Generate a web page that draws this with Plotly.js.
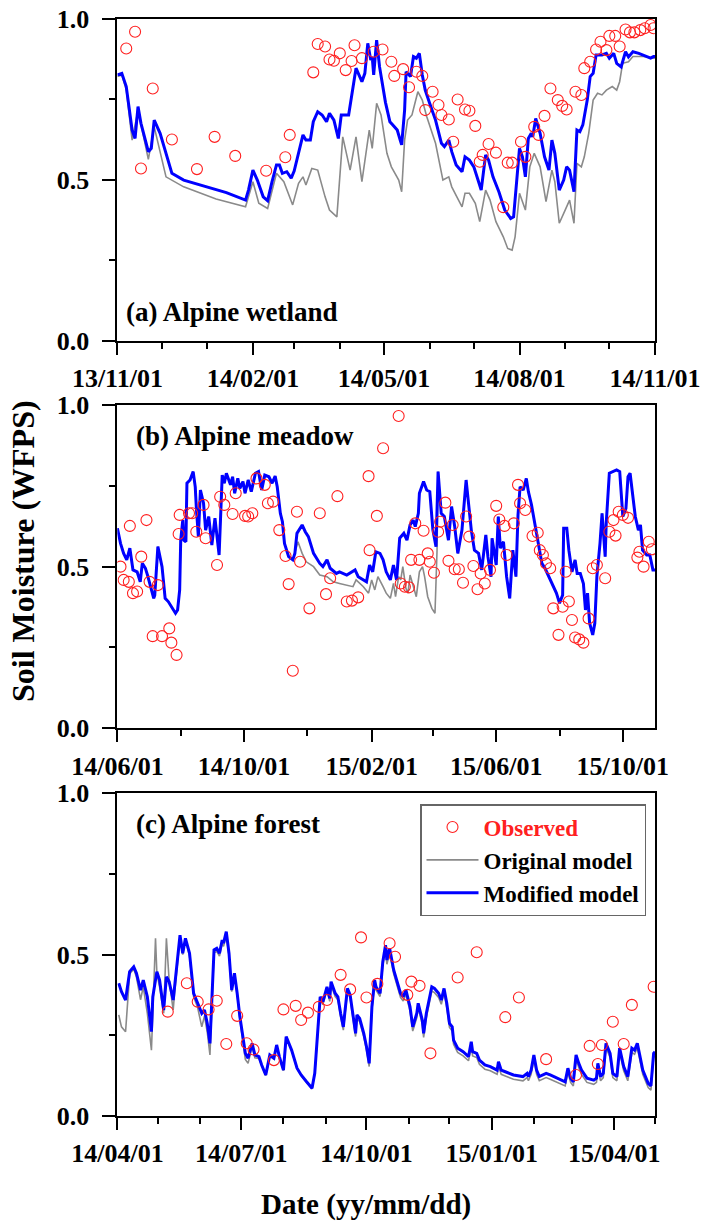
<!DOCTYPE html>
<html>
<head>
<meta charset="utf-8">
<script src="https://cdn.plot.ly/plotly-3.0.1.min.js"></script>
<style>html,body{margin:0;padding:0;background:#fff;}#chart{width:705px;height:1224px;}</style>
</head>
<body>
<div id="chart"></div>
<script>
// ---- Data: [day since panel start, soil moisture (WFPS)] ----
const wetlandStart = '2013-11-01';
const meadowStart = '2014-06-01';
const forestStart = '2014-04-01';

const wetlandObserved = [[6,0.907],[12,0.959],[16,0.535],[24,0.783],[37,0.625],[54,0.533],[66,0.633],[80,0.574],[101,0.528],[114,0.57],[117,0.639],[133,0.833],[136,0.921],[141,0.913],[144,0.873],[147,0.869],[151,0.892],[155,0.84],[159,0.868],[161,0.917],[166,0.877],[174,0.897],[180,0.904],[186,0.866],[188,0.822],[194,0.843],[198,0.787],[203,0.835],[207,0.822],[209,0.716],[214,0.773],[218,0.732],[220,0.701],[225,0.687],[228,0.618],[231,0.749],[236,0.718],[239,0.714],[243,0.667],[246,0.556],[248,0.577],[252,0.611],[257,0.584],[262,0.415],[265,0.553],[268,0.553],[274,0.618],[277,0.571],[283,0.664],[286,0.639],[290,0.698],[294,0.783],[299,0.747],[302,0.729],[305,0.718],[311,0.773],[315,0.763],[317,0.846],[321,0.866],[325,0.904],[328,0.928],[332,0.902],[334,0.946],[338,0.946],[341,0.913],[345,0.966],[348,0.957],[351,0.957],[355,0.964],[358,0.97],[362,0.98],[364,0.97]];

const wetlandOriginal = [[0,0.82],[3,0.825],[6,0.78],[10,0.623],[14,0.716],[21,0.563],[25,0.664],[33,0.509],[45,0.478],[67,0.44],[87,0.416],[89,0.447],[92,0.494],[96,0.427],[102,0.411],[108,0.52],[113,0.494],[119,0.422],[123,0.489],[126,0.509],[128,0.484],[132,0.535],[136,0.53],[141,0.447],[144,0.406],[149,0.385],[153,0.633],[158,0.53],[162,0.633],[166,0.494],[171,0.654],[173,0.597],[176,0.737],[179,0.701],[183,0.582],[186,0.54],[188,0.525],[191,0.499],[193,0.463],[195,0.623],[197,0.685],[200,0.701],[202,0.737],[204,0.773],[207,0.747],[210,0.696],[216,0.613],[221,0.499],[225,0.509],[227,0.478],[231,0.442],[234,0.416],[236,0.458],[239,0.458],[243,0.427],[246,0.37],[250,0.468],[253,0.437],[257,0.37],[262,0.323],[265,0.287],[268,0.282],[270,0.323],[273,0.458],[277,0.406],[280,0.54],[283,0.582],[287,0.54],[291,0.432],[295,0.53],[297,0.494],[300,0.365],[304,0.406],[307,0.437],[310,0.365],[312,0.551],[315,0.54],[317,0.571],[320,0.644],[323,0.747],[326,0.768],[329,0.763],[332,0.778],[336,0.789],[339,0.778],[341,0.804],[343,0.861],[347,0.866],[350,0.882],[357,0.882],[365,0.877]];

const wetlandModified = [[0,0.825],[3,0.83],[6,0.789],[10,0.654],[12,0.628],[14,0.727],[16,0.675],[21,0.587],[23,0.597],[25,0.685],[29,0.644],[37,0.52],[45,0.499],[56,0.484],[67,0.468],[74,0.46],[87,0.437],[89,0.468],[92,0.53],[95,0.499],[99,0.447],[102,0.435],[105,0.494],[108,0.546],[110,0.546],[112,0.52],[115,0.525],[118,0.505],[120,0.527],[123,0.587],[125,0.623],[126,0.639],[128,0.623],[131,0.623],[133,0.68],[136,0.711],[139,0.701],[142,0.68],[144,0.706],[147,0.685],[150,0.628],[152,0.701],[157,0.701],[159,0.758],[162,0.846],[166,0.804],[168,0.83],[170,0.923],[172,0.871],[173,0.881],[174,0.825],[176,0.933],[178,0.85],[182,0.74],[185,0.68],[187,0.67],[190,0.654],[192,0.623],[193,0.608],[195,0.716],[196,0.835],[199,0.82],[201,0.882],[203,0.877],[205,0.892],[207,0.825],[209,0.778],[212,0.737],[216,0.685],[220,0.613],[222,0.603],[225,0.623],[227,0.587],[230,0.546],[234,0.525],[236,0.571],[239,0.561],[242,0.54],[245,0.499],[247,0.468],[250,0.577],[252,0.561],[255,0.509],[259,0.463],[263,0.406],[267,0.38],[269,0.385],[271,0.499],[273,0.597],[275,0.571],[277,0.509],[279,0.628],[281,0.644],[282,0.633],[284,0.69],[287,0.644],[290,0.571],[293,0.53],[295,0.623],[297,0.582],[300,0.468],[303,0.499],[305,0.54],[307,0.53],[310,0.463],[312,0.654],[314,0.649],[316,0.67],[319,0.747],[321,0.82],[323,0.83],[325,0.887],[329,0.887],[332,0.892],[334,0.877],[337,0.892],[339,0.861],[342,0.85],[345,0.897],[347,0.881],[350,0.897],[354,0.892],[357,0.887],[362,0.877],[364,0.882],[365,0.882]];

const meadowObserved = [[3,0.5],[6,0.459],[11,0.453],[12,0.626],[15,0.418],[19,0.423],[23,0.531],[28,0.644],[31,0.453],[34,0.285],[39,0.443],[43,0.285],[50,0.309],[52,0.265],[57,0.227],[59,0.601],[60,0.66],[69,0.665],[72,0.665],[76,0.608],[83,0.691],[85,0.588],[96,0.505],[99,0.716],[103,0.691],[111,0.663],[114,0.727],[123,0.657],[126,0.655],[130,0.665],[134,0.773],[142,0.753],[145,0.696],[150,0.701],[156,0.613],[162,0.533],[165,0.446],[169,0.178],[173,0.67],[176,0.515],[185,0.371],[195,0.665],[201,0.415],[205,0.464],[212,0.718],[221,0.392],[226,0.395],[232,0.405],[242,0.78],[243,0.551],[250,0.657],[256,0.866],[271,0.966],[273,0.448],[277,0.438],[281,0.436],[283,0.521],[287,0.634],[291,0.521],[295,0.611],[299,0.541],[301,0.515],[305,0.481],[309,0.608],[311,0.639],[316,0.698],[319,0.518],[323,0.629],[325,0.492],[329,0.492],[333,0.45],[336,0.655],[339,0.593],[343,0.502],[347,0.43],[350,0.479],[354,0.448],[359,0.49],[365,0.688],[368,0.646],[373,0.626],[375,0.536],[382,0.634],[386,0.753],[388,0.696],[393,0.675],[400,0.595],[405,0.605],[407,0.551],[410,0.536],[413,0.51],[417,0.495],[420,0.371],[425,0.289],[429,0.376],[432,0.484],[435,0.392],[438,0.335],[441,0.281],[445,0.275],[449,0.265],[454,0.34],[458,0.495],[462,0.505],[470,0.464],[474,0.608],[478,0.644],[480,0.596],[483,0.67],[487,0.66],[492,0.651],[501,0.528],[503,0.546],[507,0.5],[512,0.577],[515,0.554]];

const meadowOriginal = [[0,0.619],[3,0.572],[6,0.541],[9,0.521],[12,0.557],[15,0.49],[19,0.484],[22,0.453],[24,0.51],[27,0.495],[29,0.474],[31,0.448],[35,0.402],[36,0.412],[39,0.562],[43,0.5],[46,0.402],[49,0.392],[52,0.376],[56,0.356],[58,0.366],[60,0.428],[61,0.582],[63,0.644],[64,0.582],[66,0.577],[67,0.758],[70,0.768],[73,0.794],[75,0.747],[76,0.686],[78,0.593],[80,0.737],[83,0.696],[85,0.613],[88,0.655],[91,0.567],[94,0.65],[96,0.593],[98,0.536],[101,0.783],[103,0.758],[105,0.789],[109,0.753],[111,0.778],[113,0.727],[116,0.773],[118,0.742],[121,0.763],[123,0.727],[126,0.768],[129,0.732],[133,0.789],[136,0.794],[139,0.737],[142,0.783],[146,0.778],[149,0.758],[152,0.78],[154,0.747],[157,0.665],[159,0.639],[161,0.572],[165,0.531],[169,0.521],[171,0.541],[174,0.577],[178,0.541],[182,0.515],[189,0.5],[195,0.474],[202,0.469],[208,0.453],[214,0.448],[227,0.438],[230,0.459],[237,0.438],[242,0.418],[245,0.459],[248,0.428],[251,0.469],[256,0.438],[259,0.418],[263,0.402],[266,0.448],[268,0.407],[271,0.469],[273,0.459],[275,0.5],[278,0.433],[280,0.418],[282,0.474],[285,0.438],[288,0.407],[291,0.484],[294,0.5],[296,0.469],[299,0.407],[303,0.371],[306,0.356],[308,0.551],[309,0.794],[312,0.665],[315,0.655],[319,0.582],[322,0.686],[325,0.624],[328,0.541],[332,0.613],[334,0.68],[336,0.768],[338,0.706],[341,0.613],[344,0.551],[348,0.541],[351,0.49],[355,0.598],[357,0.531],[360,0.469],[361,0.588],[365,0.505],[367,0.655],[369,0.557],[372,0.577],[375,0.469],[378,0.402],[381,0.551],[384,0.469],[386,0.66],[388,0.747],[391,0.737],[394,0.773],[396,0.732],[399,0.691],[402,0.634],[405,0.582],[409,0.51],[412,0.495],[415,0.474],[418,0.448],[423,0.418],[426,0.387],[429,0.412],[430,0.619],[433,0.619],[435,0.551],[438,0.484],[441,0.521],[443,0.479],[446,0.479],[449,0.448],[451,0.366],[453,0.418],[455,0.325],[458,0.289],[460,0.325],[462,0.469],[465,0.572],[467,0.665],[470,0.531],[471,0.634],[474,0.789],[478,0.794],[481,0.799],[484,0.794],[487,0.655],[490,0.68],[492,0.778],[494,0.789],[496,0.727],[499,0.655],[502,0.613],[504,0.629],[506,0.551],[510,0.536],[513,0.536],[516,0.49],[518,0.49]];

const meadowModified = [[0,0.619],[3,0.572],[6,0.541],[9,0.521],[12,0.557],[15,0.49],[19,0.484],[22,0.453],[24,0.51],[27,0.495],[29,0.474],[31,0.448],[35,0.402],[36,0.412],[39,0.562],[43,0.5],[46,0.402],[49,0.392],[52,0.376],[56,0.356],[58,0.366],[60,0.428],[61,0.582],[63,0.644],[64,0.582],[66,0.577],[67,0.758],[70,0.768],[73,0.794],[75,0.747],[76,0.686],[78,0.593],[80,0.737],[83,0.696],[85,0.613],[88,0.655],[91,0.567],[94,0.65],[96,0.593],[98,0.536],[101,0.783],[103,0.758],[105,0.789],[109,0.753],[111,0.778],[113,0.727],[116,0.773],[118,0.742],[121,0.763],[123,0.727],[126,0.768],[129,0.732],[133,0.789],[136,0.794],[139,0.737],[142,0.783],[146,0.778],[149,0.758],[152,0.78],[154,0.747],[157,0.665],[159,0.639],[161,0.572],[165,0.531],[169,0.521],[171,0.541],[173,0.603],[178,0.629],[181,0.608],[184,0.593],[189,0.541],[195,0.51],[198,0.5],[202,0.521],[205,0.495],[211,0.479],[214,0.484],[221,0.474],[229,0.49],[232,0.469],[240,0.453],[243,0.505],[246,0.484],[249,0.546],[253,0.541],[256,0.521],[259,0.484],[263,0.459],[266,0.505],[269,0.459],[272,0.588],[276,0.603],[279,0.582],[282,0.629],[285,0.644],[287,0.624],[290,0.665],[291,0.727],[295,0.763],[298,0.737],[301,0.732],[304,0.613],[307,0.562],[309,0.794],[312,0.665],[315,0.655],[319,0.582],[322,0.686],[325,0.624],[328,0.541],[332,0.613],[334,0.68],[336,0.768],[338,0.706],[341,0.613],[344,0.551],[348,0.541],[351,0.49],[355,0.598],[357,0.531],[360,0.469],[361,0.588],[365,0.505],[367,0.655],[369,0.557],[372,0.577],[375,0.469],[378,0.402],[381,0.551],[384,0.469],[386,0.66],[388,0.747],[391,0.737],[394,0.773],[396,0.732],[399,0.691],[402,0.634],[405,0.582],[409,0.51],[412,0.495],[415,0.474],[418,0.448],[423,0.418],[426,0.387],[429,0.412],[430,0.619],[433,0.619],[435,0.551],[438,0.484],[441,0.521],[443,0.479],[446,0.479],[449,0.448],[451,0.366],[453,0.418],[455,0.325],[458,0.289],[460,0.325],[462,0.469],[465,0.572],[467,0.665],[470,0.531],[471,0.634],[474,0.789],[478,0.794],[481,0.799],[484,0.794],[487,0.655],[490,0.68],[492,0.778],[494,0.789],[496,0.727],[499,0.655],[502,0.613],[504,0.629],[506,0.551],[510,0.536],[513,0.536],[516,0.49],[518,0.49]];

const forestObserved = [[37,0.323],[51,0.411],[59,0.354],[67,0.33],[73,0.357],[80,0.223],[88,0.31],[95,0.225],[100,0.206],[115,0.173],[122,0.33],[131,0.341],[135,0.297],[140,0.32],[148,0.338],[154,0.359],[164,0.437],[171,0.392],[179,0.553],[183,0.367],[191,0.409],[200,0.535],[204,0.493],[213,0.375],[216,0.416],[222,0.403],[230,0.194],[250,0.429],[264,0.507],[285,0.306],[295,0.367],[315,0.176],[337,0.127],[347,0.217],[353,0.161],[356,0.22],[364,0.292],[372,0.223],[378,0.344],[394,0.4]];

const forestOriginal = [[1,0.313],[3,0.276],[6,0.261],[9,0.44],[12,0.455],[14,0.43],[17,0.36],[19,0.4],[22,0.318],[25,0.204],[26,0.318],[28,0.55],[29,0.442],[31,0.4],[34,0.318],[36,0.55],[38,0.421],[41,0.328],[42,0.38],[46,0.55],[48,0.5],[50,0.545],[53,0.495],[56,0.37],[59,0.335],[62,0.276],[64,0.31],[66,0.26],[68,0.189],[70,0.41],[71,0.505],[73,0.51],[75,0.495],[77,0.535],[78,0.525],[80,0.56],[82,0.495],[84,0.385],[86,0.435],[88,0.375],[90,0.3],[94,0.175],[96,0.163],[99,0.215],[101,0.18],[104,0.178],[106,0.155],[109,0.125],[112,0.185],[115,0.176],[117,0.217],[119,0.182],[122,0.14],[124,0.244],[128,0.202],[132,0.146],[135,0.125],[139,0.104],[143,0.084],[145,0.13],[147,0.255],[149,0.36],[151,0.345],[154,0.39],[156,0.355],[157,0.405],[160,0.37],[162,0.36],[164,0.308],[166,0.266],[169,0.385],[171,0.365],[175,0.246],[176,0.303],[178,0.292],[181,0.246],[183,0.205],[185,0.153],[187,0.328],[189,0.41],[190,0.39],[193,0.37],[195,0.465],[197,0.515],[198,0.47],[200,0.505],[203,0.44],[205,0.408],[208,0.367],[210,0.356],[212,0.377],[215,0.325],[217,0.263],[220,0.305],[221,0.336],[224,0.284],[225,0.243],[227,0.305],[230,0.367],[231,0.387],[233,0.382],[236,0.367],[238,0.346],[240,0.382],[242,0.336],[244,0.274],[246,0.263],[247,0.222],[250,0.197],[254,0.186],[258,0.171],[260,0.217],[261,0.186],[264,0.181],[266,0.16],[270,0.145],[274,0.14],[279,0.129],[280,0.155],[282,0.129],[285,0.124],[291,0.114],[298,0.109],[301,0.119],[302,0.109],[304,0.129],[306,0.176],[308,0.129],[310,0.109],[315,0.119],[318,0.114],[323,0.104],[329,0.093],[331,0.135],[333,0.104],[335,0.093],[337,0.176],[339,0.15],[341,0.129],[345,0.104],[350,0.098],[352,0.104],[353,0.15],[355,0.109],[357,0.119],[359,0.212],[362,0.181],[364,0.119],[367,0.109],[369,0.197],[372,0.14],[375,0.109],[378,0.197],[380,0.191],[382,0.212],[384,0.171],[386,0.129],[390,0.088],[392,0.08],[394,0.181],[395,0.186]];

const forestModified = [[1,0.411],[3,0.385],[6,0.359],[9,0.447],[12,0.462],[14,0.442],[17,0.39],[19,0.421],[22,0.369],[25,0.261],[26,0.369],[29,0.447],[31,0.421],[34,0.328],[36,0.431],[38,0.416],[41,0.359],[42,0.4],[46,0.56],[48,0.504],[50,0.55],[53,0.504],[56,0.38],[59,0.349],[62,0.318],[64,0.328],[66,0.287],[68,0.225],[70,0.421],[71,0.514],[73,0.519],[75,0.504],[77,0.545],[78,0.535],[80,0.571],[82,0.504],[84,0.39],[86,0.442],[88,0.38],[90,0.307],[94,0.194],[96,0.179],[99,0.225],[101,0.189],[104,0.184],[106,0.158],[109,0.127],[112,0.189],[115,0.179],[117,0.22],[119,0.184],[122,0.142],[124,0.246],[128,0.204],[132,0.148],[135,0.127],[139,0.106],[143,0.086],[145,0.132],[147,0.261],[149,0.369],[151,0.354],[154,0.4],[156,0.364],[157,0.416],[160,0.38],[162,0.369],[164,0.318],[166,0.276],[169,0.395],[171,0.375],[175,0.256],[176,0.313],[178,0.302],[181,0.256],[183,0.215],[185,0.163],[187,0.338],[189,0.421],[190,0.4],[193,0.38],[195,0.478],[197,0.529],[198,0.483],[200,0.519],[203,0.452],[205,0.421],[208,0.38],[210,0.369],[212,0.39],[215,0.338],[217,0.276],[220,0.318],[221,0.349],[224,0.297],[225,0.256],[227,0.318],[230,0.38],[231,0.4],[233,0.395],[236,0.38],[238,0.359],[240,0.395],[242,0.349],[244,0.287],[246,0.276],[247,0.235],[250,0.21],[254,0.199],[258,0.184],[260,0.23],[261,0.199],[264,0.194],[266,0.173],[270,0.158],[274,0.153],[279,0.142],[280,0.168],[282,0.142],[285,0.137],[291,0.127],[298,0.122],[301,0.132],[302,0.122],[304,0.142],[306,0.189],[308,0.142],[310,0.122],[315,0.132],[318,0.127],[323,0.117],[329,0.106],[331,0.148],[333,0.117],[335,0.106],[337,0.189],[339,0.163],[341,0.142],[345,0.117],[350,0.111],[352,0.117],[353,0.163],[355,0.122],[357,0.132],[359,0.225],[362,0.194],[364,0.132],[367,0.122],[369,0.21],[372,0.153],[375,0.122],[378,0.21],[380,0.204],[382,0.225],[384,0.184],[386,0.142],[390,0.101],[392,0.093],[394,0.194],[395,0.199]];

const panelLabels = ['(a) Alpine wetland', '(b) Alpine meadow', '(c) Alpine forest'];
const seriesNames = ['Observed', 'Original model', 'Modified model'];
const yTitle = 'Soil Moisture (WFPS)';
const xTitle = 'Date (yy/mm/dd)';

// ---- helpers ----
function toDate(start, day) {
  const p = start.split('-').map(Number);
  const t = Date.UTC(p[0], p[1] - 1, p[2]) + day * 86400000;
  return new Date(t).toISOString().slice(0, 10);
}
function xs(start, arr) { return arr.map(d => toDate(start, d[0])); }
function ys(arr) { return arr.map(d => d[1]); }

const FONT = 'Liberation Serif, Times New Roman, serif';
const RED = '#ff2020', GRAY = '#8a8a8a', BLUE = '#0000ff';

const panels = [
  {start: wetlandStart, obs: wetlandObserved, orig: wetlandOriginal, mod: wetlandModified, ax: ''},
  {start: meadowStart, obs: meadowObserved, orig: meadowOriginal, mod: meadowModified, ax: '2'},
  {start: forestStart, obs: forestObserved, orig: forestOriginal, mod: forestModified, ax: '3'}
];

const traces = [];
panels.forEach((p, i) => {
  const leg = i === 2;
  traces.push({type: 'scatter', mode: 'lines', x: xs(p.start, p.orig), y: ys(p.orig),
    xaxis: 'x' + p.ax, yaxis: 'y' + p.ax, line: {color: GRAY, width: 1.6},
    name: seriesNames[1], showlegend: leg, legendrank: 2, hoverinfo: 'skip'});
  traces.push({type: 'scatter', mode: 'lines', x: xs(p.start, p.mod), y: ys(p.mod),
    xaxis: 'x' + p.ax, yaxis: 'y' + p.ax, line: {color: BLUE, width: 3},
    name: seriesNames[2], showlegend: leg, legendrank: 3, hoverinfo: 'skip'});
  traces.push({type: 'scatter', mode: 'markers', x: xs(p.start, p.obs), y: ys(p.obs),
    xaxis: 'x' + p.ax, yaxis: 'y' + p.ax,
    marker: {symbol: 'circle-open', size: 11, color: RED, line: {color: RED, width: 1.1}},
    name: '<span style="color:' + RED + '">' + seriesNames[0] + '</span>',
    showlegend: leg, legendrank: 1, hoverinfo: 'skip'});
});

const H = 1224, W = 705;
const xDom = [117.4 / W, 655 / W];
function yDom(topPx, botPx) { return [1 - botPx / H, 1 - topPx / H]; }

const tickFont = {family: FONT, size: 26, color: '#000', weight: 'bold'};
function xAxis(start, range, major, minor, anchor) {
  return {type: 'date', domain: xDom, anchor: anchor, range: range,
    tickmode: 'linear', tick0: start, dtick: major, tickformat: '%y/%m/%d',
    ticks: 'outside', ticklen: 12, tickwidth: 2, tickcolor: '#000',
    showline: true, mirror: true, linecolor: '#000', linewidth: 2,
    showgrid: false, zeroline: false, tickfont: tickFont, ticklabelstandoff: 1,
    minor: {ticks: 'outside', ticklen: 6, tickwidth: 2, tickcolor: '#000', tickmode: 'linear', tick0: start, dtick: minor, showgrid: false}};
}
function yAxis(dom, anchor) {
  return {domain: dom, anchor: anchor, range: [0, 1], tickmode: 'linear', tick0: 0, dtick: 0.5,
    tickformat: '.1f', ticks: 'outside', ticklen: 13, tickwidth: 2, tickcolor: '#000',
    showline: true, mirror: true, linecolor: '#000', linewidth: 2,
    showgrid: false, zeroline: false, tickfont: tickFont, ticklabelstandoff: 8,
    minor: {ticks: 'outside', ticklen: 6, tickwidth: 2, tickcolor: '#000', tickmode: 'linear', tick0: 0, dtick: 0.25, showgrid: false}};
}

const labelFont = {family: FONT, size: 27, color: '#000', weight: 'bold'};
const layout = {
  width: W, height: H, margin: {l: 0, r: 0, t: 0, b: 0},
  paper_bgcolor: '#fff', plot_bgcolor: '#fff', showlegend: true,
  xaxis: xAxis(wetlandStart, ['2013-11-01', '2014-11-01'], 'M3', 'M1', 'y'),
  yaxis: yAxis(yDom(18.5, 341), 'x'),
  xaxis2: xAxis(meadowStart, ['2014-06-01', '2015-11-01'], 'M4', 'M2', 'y2'),
  yaxis2: yAxis(yDom(405, 728.3), 'x2'),
  xaxis3: xAxis(forestStart, ['2014-04-01', '2015-05-01'], 'M3', 'M1', 'y3'),
  yaxis3: yAxis(yDom(793, 1116), 'x3'),
  legend: {x: 420 / W, y: 1 - 804 / H, xanchor: 'left', yanchor: 'top',
    bgcolor: '#fff', bordercolor: '#666', borderwidth: 1.5,
    font: {family: FONT, size: 23, color: '#000', weight: 'bold'},
    itemwidth: 52, tracegroupgap: 0},
  annotations: [
    {text: panelLabels[0], xref: 'paper', yref: 'paper', x: 124 / W, y: 1 - 312 / H, xanchor: 'left', yanchor: 'middle', showarrow: false, font: labelFont},
    {text: panelLabels[1], xref: 'paper', yref: 'paper', x: 134 / W, y: 1 - 436 / H, xanchor: 'left', yanchor: 'middle', showarrow: false, font: labelFont},
    {text: panelLabels[2], xref: 'paper', yref: 'paper', x: 134 / W, y: 1 - 824 / H, xanchor: 'left', yanchor: 'middle', showarrow: false, font: labelFont},
    {text: yTitle, xref: 'paper', yref: 'paper', x: 23 / W, y: 1 - 551 / H, xanchor: 'center', yanchor: 'middle', textangle: -90, showarrow: false, font: {family: FONT, size: 32, color: '#000', weight: 'bold'}},
    {text: xTitle, xref: 'paper', yref: 'paper', x: 366 / W, y: 1 - 1204 / H, xanchor: 'center', yanchor: 'middle', showarrow: false, font: {family: FONT, size: 29, color: '#000', weight: 'bold'}}
  ]
};

Plotly.newPlot('chart', traces, layout, {staticPlot: true, displayModeBar: false});
</script>
</body>
</html>
